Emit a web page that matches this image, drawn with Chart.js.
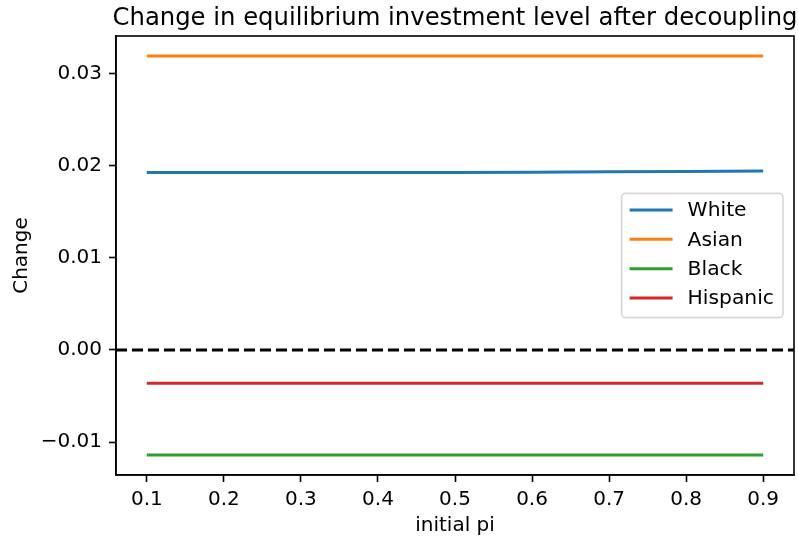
<!DOCTYPE html>
<html>
<head>
<meta charset="utf-8">
<script src="https://cdn.jsdelivr.net/npm/chart.js@4"></script>
<style>
html,body{margin:0;padding:0;background:#fff;}
canvas{display:block;}
</style>
</head>
<body>
<canvas id="c" width="798" height="544"></canvas>
<script>
const chartTitle = "Change in equilibrium investment level after decoupling";
const xLabel = "initial pi";
const yLabel = "Change";
const xValues = [0.1, 0.2, 0.3, 0.4, 0.5, 0.6, 0.7, 0.8, 0.9];
const whiteValues = [0.01925, 0.01925, 0.01925, 0.01925, 0.01926, 0.01929, 0.01933, 0.01937, 0.01941];
const asianValues = [0.0319, 0.0319, 0.0319, 0.0319, 0.0319, 0.0319, 0.0319, 0.0319, 0.0319];
const blackValues = [-0.0114, -0.0114, -0.0114, -0.0114, -0.0114, -0.0114, -0.0114, -0.0114, -0.0114];
const hispanicValues = [-0.0036, -0.0036, -0.0036, -0.0036, -0.0036, -0.0036, -0.0036, -0.0036, -0.0036];
const seriesNames = ["White", "Asian", "Black", "Hispanic"];
const xTicks = [0.1, 0.2, 0.3, 0.4, 0.5, 0.6, 0.7, 0.8, 0.9];
const yTicks = [-0.01, 0.00, 0.01, 0.02, 0.03];
const xRange = [0.06, 0.94];
const yRange = [-0.013565, 0.034065];
const zeroLine = [0, 0];

const colors = ["#1f77b4", "#ff7f0e", "#2ca02c", "#d62728"];
const FONT = '"DejaVu Sans", "Liberation Sans", sans-serif';
Chart.defaults.font.family = FONT;
Chart.defaults.color = "#000";

function pts(vals) { return xValues.map((x, i) => ({x: x, y: vals[i]})); }
const allSeries = [whiteValues, asianValues, blackValues, hispanicValues];

const datasets = allSeries.map((vals, i) => ({
  label: seriesNames[i],
  data: pts(vals),
  borderColor: colors[i],
  backgroundColor: colors[i],
  borderWidth: 3,
  pointRadius: 0,
  tension: 0,
  order: 1
}));
datasets.push({
  label: "_zero",
  data: xRange.map((x, i) => ({x: x, y: zeroLine[i]})),
  borderColor: "#000",
  borderWidth: 3,
  borderDash: [11, 5],
  pointRadius: 0,
  order: 0
});

const framePlugin = {
  id: "frame",
  afterDraw(chart) {
    const ctx = chart.ctx, a = chart.chartArea;
    ctx.save();
    ctx.strokeStyle = "#000";
    ctx.lineWidth = 1.6;
    ctx.strokeRect(a.left, a.top, a.right - a.left, a.bottom - a.top);
    ctx.fillStyle = "#000";
    ctx.font = "24.3px " + FONT;
    ctx.textAlign = "center";
    ctx.textBaseline = "alphabetic";
    ctx.fillText(chartTitle, (a.left + a.right) / 2, a.top - 11);
    ctx.font = "20.3px " + FONT;
    let maxW = 0;
    seriesNames.forEach(n => { maxW = Math.max(maxW, ctx.measureText(n).width); });
    const rowH = 29.4, handleW = 43;
    const boxW = 8 + handleW + 15 + maxW + 9;
    const boxH = 16 + rowH * (seriesNames.length - 1) + 20;
    const boxR = a.right - 11;
    const boxL = boxR - boxW;
    const cy = (a.top + a.bottom) / 2;
    const boxT = cy - boxH / 2;
    ctx.beginPath();
    ctx.roundRect(boxL, boxT, boxW, boxH, 4);
    ctx.fillStyle = "rgba(255,255,255,0.8)";
    ctx.fill();
    ctx.strokeStyle = "rgba(204,204,204,0.8)";
    ctx.lineWidth = 1.6;
    ctx.stroke();
    seriesNames.forEach((n, i) => {
      const y = boxT + 16.5 + i * rowH;
      ctx.beginPath();
      ctx.moveTo(boxL + 8, y);
      ctx.lineTo(boxL + 8 + handleW, y);
      ctx.strokeStyle = colors[i];
      ctx.lineWidth = 3;
      ctx.stroke();
      ctx.fillStyle = "#000";
      ctx.textAlign = "left";
      ctx.textBaseline = "middle";
      ctx.fillText(n, boxL + 8 + handleW + 15, y + 1);
    });
    ctx.restore();
  }
};

function fmtY(v) {
  const s = Math.abs(v).toFixed(2);
  return (v < -1e-12 ? "\u2212" : "") + s;
}

new Chart(document.getElementById("c"), {
  type: "line",
  data: { datasets: datasets },
  plugins: [framePlugin],
  options: {
    responsive: false,
    animation: false,
    devicePixelRatio: 1,
    layout: { padding: { top: 36, right: 4, left: 0, bottom: 0 } },
    plugins: { legend: { display: false }, title: { display: false }, tooltip: { enabled: false } },
    scales: {
      x: {
        type: "linear",
        min: xRange[0], max: xRange[1],
        afterBuildTicks(s) { s.ticks = xTicks.map(v => ({value: v})); },
        afterFit(s) { s.height = 69; },
        ticks: {
          autoSkip: false, maxRotation: 0,
          font: { size: 20, family: FONT }, color: "#000", padding: 6,
          callback: v => Number(v).toFixed(1)
        },
        grid: { display: true, drawOnChartArea: false, drawTicks: true, tickLength: 7, tickColor: "#000", tickWidth: 1.6 },
        border: { display: true, color: "#000", width: 1.6 },
        title: { display: true, text: xLabel, font: { size: 20, family: FONT }, color: "#000", padding: { top: 0, bottom: 6 } }
      },
      y: {
        type: "linear",
        min: yRange[0], max: yRange[1],
        afterBuildTicks(s) { s.ticks = yTicks.map(v => ({value: v})); },
        afterFit(s) { s.width = 116; },
        ticks: {
          autoSkip: false,
          font: { size: 20, family: FONT }, color: "#000", padding: 7,
          callback: v => fmtY(Number(v))
        },
        grid: { display: true, drawOnChartArea: false, drawTicks: true, tickLength: 7, tickColor: "#000", tickWidth: 1.6 },
        border: { display: true, color: "#000", width: 1.6 },
        title: { display: true, text: yLabel, font: { size: 20, family: FONT }, color: "#000", padding: { top: 10, bottom: 0 } }
      }
    }
  }
});
</script>
</body>
</html>
